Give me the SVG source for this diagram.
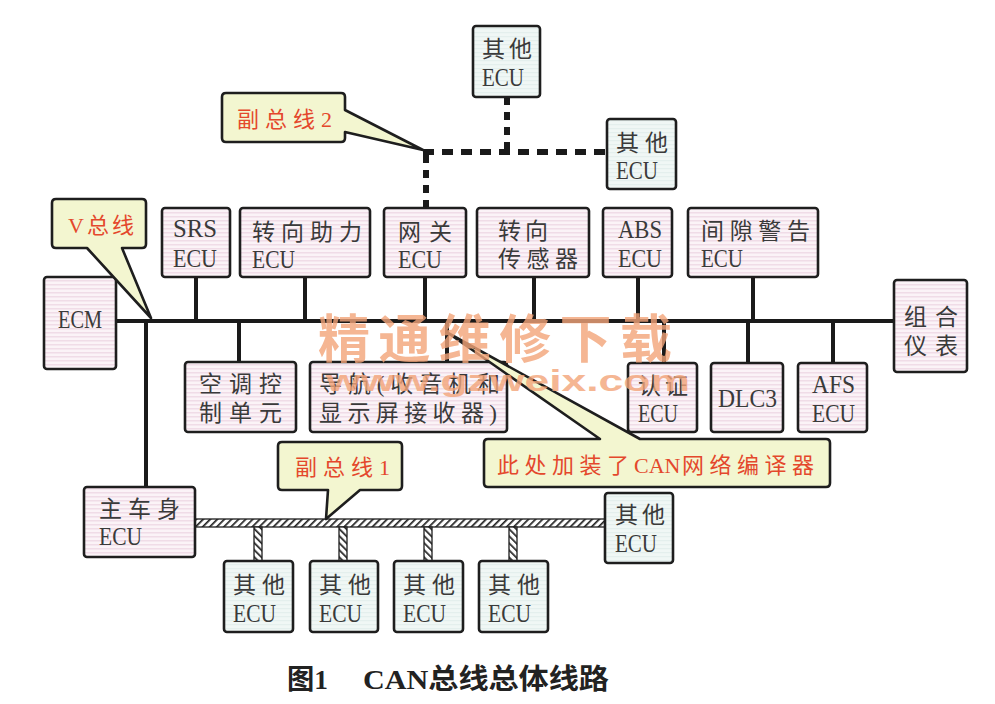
<svg xmlns="http://www.w3.org/2000/svg" width="995" height="704" viewBox="0 0 995 704">
<defs>
<pattern id="pink" width="4" height="4" patternUnits="userSpaceOnUse"><rect width="4" height="4" fill="#fbf3f7"/><rect width="4" height="1.5" fill="#f0dce7"/></pattern>
<pattern id="blue" width="4" height="4" patternUnits="userSpaceOnUse"><rect width="4" height="4" fill="#f0f7f5"/><rect width="4" height="1.2" fill="#e4efed"/></pattern>
<pattern id="hatchH" width="5" height="5" patternUnits="userSpaceOnUse" patternTransform="rotate(45)"><rect width="5" height="5" fill="#ffffff"/><rect width="1.7" height="5" fill="#222"/></pattern>
<pattern id="hatchV" width="5" height="5" patternUnits="userSpaceOnUse" patternTransform="rotate(-45)"><rect width="5" height="5" fill="#ffffff"/><rect width="1.7" height="5" fill="#222"/></pattern>
</defs>
<style>
.bp{fill:url(#pink);stroke:#1e1e1e;stroke-width:2.6}
.bb{fill:url(#blue);stroke:#1e1e1e;stroke-width:2.6}
.co{fill:#f3f6d0;stroke:#1e1e1e;stroke-width:2.6;stroke-linejoin:round}
.t{font-family:"Liberation Serif","Noto Sans CJK SC",serif;font-size:23px;fill:#3a3a3a}
.e{font-family:"Liberation Serif","Noto Sans CJK SC",serif;font-size:26px;fill:#3a3a3a}
.r{font-family:"Liberation Serif","Noto Sans CJK SC",serif;font-size:22px;fill:#e4482c}
.bus{stroke:#1a1a1a;stroke-width:4;fill:none}
.dot{stroke:#1a1a1a;stroke-width:6;fill:none}
.hb{stroke:#1e1e1e;stroke-width:1.3}
.cap{font-family:"Liberation Serif","Noto Sans CJK SC",serif;font-size:28px;font-weight:bold;fill:#222}
.wm{font-family:"Noto Sans CJK SC",sans-serif;font-weight:bold;fill:#f3a479;opacity:0.8}
.wu{font-family:"Liberation Sans",sans-serif;font-weight:bold;fill:#f3a479;opacity:0.8}
</style>
<rect width="995" height="704" fill="#ffffff"/>

<g id="connectors">
<path class="bus" d="M116,321 H894"/>
<path class="bus" d="M146,321 V487"/>
<path class="bus" d="M196,277 V321 M305,277 V321 M425,277 V321 M534,277 V321 M638,277 V321 M753,277 V321"/>
<path class="bus" d="M239,321 V362 M447,321 V362 M664,321 V363 M748,321 V363 M833,321 V363"/>
<path class="dot" d="M423,152 H607" stroke-dasharray="11 8"/>
<path class="dot" d="M426,155 V208" stroke-dasharray="8 7"/>
<path class="dot" d="M507,97 V150" stroke-dasharray="8 7"/>
<rect class="hb" x="195" y="519" width="410" height="8" fill="url(#hatchH)"/>
<rect class="hb" x="254" y="527" width="8" height="34" fill="url(#hatchV)"/>
<rect class="hb" x="339" y="527" width="8" height="34" fill="url(#hatchV)"/>
<rect class="hb" x="424" y="527" width="8" height="34" fill="url(#hatchV)"/>
<rect class="hb" x="509" y="527" width="8" height="34" fill="url(#hatchV)"/>
</g>

<g id="other-top"><rect class="bb" x="473" y="26" width="67" height="71" rx="3"/><text class="t" x="482" y="57" textLength="50">其他</text><text class="e" x="482" y="86" textLength="42" lengthAdjust="spacingAndGlyphs">ECU</text></g>
<g id="other-right"><rect class="bb" x="607" y="119" width="69" height="70" rx="3"/><text class="t" x="616" y="151" textLength="52">其他</text><text class="e" x="616" y="179" textLength="42" lengthAdjust="spacingAndGlyphs">ECU</text></g>

<g id="srs"><rect class="bp" x="162" y="208" width="68" height="69" rx="3"/><text class="e" x="173" y="237" textLength="44" lengthAdjust="spacingAndGlyphs">SRS</text><text class="e" x="173" y="267" textLength="44" lengthAdjust="spacingAndGlyphs">ECU</text></g>
<g id="eps"><rect class="bp" x="240" y="208" width="130" height="69" rx="3"/><text class="t" x="252" y="240" textLength="110">转向助力</text><text class="e" x="252" y="268" textLength="43" lengthAdjust="spacingAndGlyphs">ECU</text></g>
<g id="gateway"><rect class="bp" x="384" y="208" width="82" height="69" rx="3"/><text class="t" x="398" y="240" textLength="54">网关</text><text class="e" x="398" y="268" textLength="44" lengthAdjust="spacingAndGlyphs">ECU</text></g>
<g id="steer-sensor"><rect class="bp" x="477" y="208" width="112" height="69" rx="3"/><text class="t" x="498" y="239" textLength="50">转向</text><text class="t" x="498" y="267" textLength="80">传感器</text></g>
<g id="abs"><rect class="bp" x="603" y="208" width="69" height="69" rx="3"/><text class="e" x="618" y="238" textLength="44" lengthAdjust="spacingAndGlyphs">ABS</text><text class="e" x="618" y="267" textLength="44" lengthAdjust="spacingAndGlyphs">ECU</text></g>
<g id="clearance"><rect class="bp" x="688" y="208" width="130" height="69" rx="3"/><text class="t" x="701" y="239" textLength="109">间隙警告</text><text class="e" x="701" y="267" textLength="42" lengthAdjust="spacingAndGlyphs">ECU</text></g>

<g id="ecm"><rect class="bp" x="44" y="277" width="72" height="92" rx="3"/><text class="e" x="58" y="328" textLength="44" lengthAdjust="spacingAndGlyphs">ECM</text></g>
<g id="meter"><rect class="bp" x="894" y="280" width="73" height="92" rx="3"/><text class="t" x="904" y="325" textLength="54">组合</text><text class="t" x="904" y="354" textLength="54">仪表</text></g>

<g id="ac"><rect class="bp" x="185" y="362" width="111" height="70" rx="3"/><text class="t" x="199" y="392" textLength="83">空调控</text><text class="t" x="199" y="421" textLength="83">制单元</text></g>
<g id="nav"><rect class="bp" x="310" y="362" width="197" height="70" rx="3"/><text class="t" x="319" y="392" textLength="181">导航(收音机和</text><text class="t" x="319" y="421" textLength="178">显示屏接收器)</text></g>
<g id="auth"><rect class="bp" x="628" y="363" width="69" height="69" rx="3"/><text class="t" x="638" y="394" textLength="50">认证</text><text class="e" x="638" y="422" textLength="40" lengthAdjust="spacingAndGlyphs">ECU</text></g>
<g id="dlc3"><rect class="bp" x="711" y="363" width="72" height="69" rx="3"/><text class="e" x="718" y="407" textLength="59" lengthAdjust="spacingAndGlyphs">DLC3</text></g>
<g id="afs"><rect class="bp" x="798" y="363" width="69" height="69" rx="3"/><text class="e" x="812" y="393" textLength="43" lengthAdjust="spacingAndGlyphs">AFS</text><text class="e" x="812" y="422" textLength="43" lengthAdjust="spacingAndGlyphs">ECU</text></g>

<g id="body"><rect class="bp" x="84" y="487" width="111" height="70" rx="3"/><text class="t" x="99" y="517" textLength="81">主车身</text><text class="e" x="99" y="545" textLength="43" lengthAdjust="spacingAndGlyphs">ECU</text></g>
<g id="other-b1"><rect class="bb" x="224" y="561" width="69" height="71" rx="3"/><text class="t" x="233" y="593" textLength="52">其他</text><text class="e" x="233" y="622" textLength="43" lengthAdjust="spacingAndGlyphs">ECU</text></g>
<g id="other-b2"><rect class="bb" x="310" y="561" width="68" height="71" rx="3"/><text class="t" x="319" y="593" textLength="52">其他</text><text class="e" x="319" y="622" textLength="43" lengthAdjust="spacingAndGlyphs">ECU</text></g>
<g id="other-b3"><rect class="bb" x="394" y="561" width="69" height="71" rx="3"/><text class="t" x="403" y="593" textLength="52">其他</text><text class="e" x="403" y="622" textLength="43" lengthAdjust="spacingAndGlyphs">ECU</text></g>
<g id="other-b4"><rect class="bb" x="479" y="561" width="69" height="71" rx="3"/><text class="t" x="488" y="593" textLength="52">其他</text><text class="e" x="488" y="622" textLength="43" lengthAdjust="spacingAndGlyphs">ECU</text></g>
<g id="other-b5"><rect class="bb" x="605" y="493" width="68" height="70" rx="3"/><text class="t" x="615" y="523" textLength="50">其他</text><text class="e" x="615" y="552" textLength="42" lengthAdjust="spacingAndGlyphs">ECU</text></g>

<g id="label-sub2"><path class="co" d="M226,93 H341 Q345,93 345,97 V110 L423,150 L345,132 V138 Q345,142 341,142 H226 Q222,142 222,138 V97 Q222,93 226,93 Z"/><text class="r" x="237" y="127" letter-spacing="6">副总线2</text></g>
<g id="label-v"><path class="co" d="M56,199 H142 Q146,199 146,203 V244 Q146,248 142,248 H122 L151,318 L87,248 H56 Q52,248 52,244 V203 Q52,199 56,199 Z"/><text class="r" x="68" y="233" letter-spacing="3">V总线</text></g>
<g id="label-sub1"><path class="co" d="M282,442 H398 Q402,442 402,446 V486 Q402,490 398,490 H360 L326,519 L328,490 H282 Q278,490 278,486 V446 Q278,442 282,442 Z"/><text class="r" x="295" y="475" letter-spacing="6">副总线1</text></g>
<g id="label-can"><path class="co" d="M488,439 H600 L448,333 L640,439 H826 Q830,439 830,443 V483 Q830,487 826,487 H488 Q484,487 484,483 V443 Q484,439 488,439 Z"/><text class="r" x="497" y="473"><tspan letter-spacing="5.5">此处加装了</tspan><tspan x="634" letter-spacing="0">CAN</tspan><tspan x="682" letter-spacing="5.5">网络编译器</tspan></text></g>

<g id="watermark">
<text class="wm" x="318" y="358" font-size="52" textLength="354">精通维修下载</text>
<text class="wu" x="326" y="391" font-size="30" textLength="364" lengthAdjust="spacingAndGlyphs">www.gzweix.com</text>
</g>

<g id="caption">
<text class="cap" x="287" y="689" textLength="41" lengthAdjust="spacingAndGlyphs">图1</text>
<text class="cap" x="363" y="689" textLength="246" lengthAdjust="spacingAndGlyphs">CAN总线总体线路</text>
</g>
</svg>
